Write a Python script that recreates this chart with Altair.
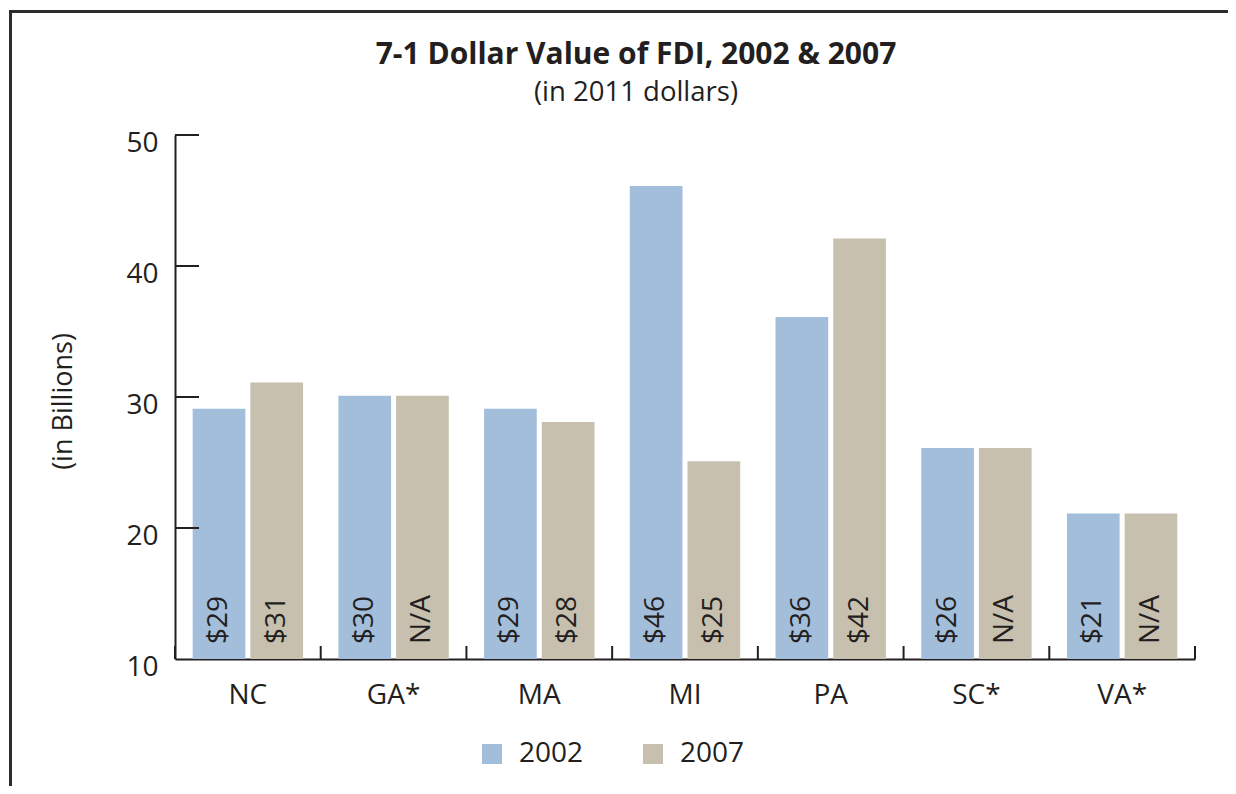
import altair as alt
import pandas as pd

states = ["NC", "GA*", "MA", "MI", "PA", "SC*", "VA*"]
v2002 = [29.1, 30.1, 29.1, 46.1, 36.1, 26.1, 21.1]
v2007 = [31.1, 30.1, 28.1, 25.1, 42.1, 26.1, 21.1]
lab2002 = ["$29", "$30", "$29", "$46", "$36", "$26", "$21"]
lab2007 = ["$31", "N/A", "$28", "$25", "$42", "N/A", "N/A"]
years = ["2002", "2007"]
y_ticks = [10, 20, 30, 40, 50]
title_text = "7-1 Dollar Value of FDI, 2002 & 2007"
subtitle_text = "(in 2011 dollars)"
y_title = "(in Billions)"

BLUE = "#a3bedb"
TAN = "#c8c0ae"
INK = "#231f20"
W, H = 1020, 524

rows = []
for i, s in enumerate(states):
    rows.append({"state": s, "year": years[0], "value": v2002[i], "label": lab2002[i]})
    rows.append({"state": s, "year": years[1], "value": v2007[i], "label": lab2007[i]})
df = pd.DataFrame(rows)

xscale = alt.Scale(domain=states, paddingInner=0, paddingOuter=0)
yscale = alt.Scale(domain=[10, 50], zero=False, nice=False)
offscale = alt.Scale(domain=years, paddingInner=0.087, paddingOuter=0.306)

base = alt.Chart(df)

bars = base.mark_bar().encode(
    x=alt.X("state:N", sort=states, scale=xscale,
            axis=alt.Axis(title=None, labelAngle=0, labelPadding=22, ticks=False,
                          tickSize=0, domain=True)),
    xOffset=alt.XOffset("year:N", scale=offscale),
    y=alt.Y("value:Q", scale=yscale,
            axis=alt.Axis(values=y_ticks, title=y_title, ticks=False, tickSize=0,
                          labelPadding=17, labelOffset=8, titleAngle=270,
                          titleX=-112, titleY=266, titleBaseline="middle",
                          titleAlign="center", titleFontSize=27,
                          titleFontWeight="normal", titleFont="Open Sans",
                          titleColor=INK)),
    y2=alt.datum(10),
    color=alt.Color("year:N", scale=alt.Scale(domain=years, range=[BLUE, TAN]),
                    legend=alt.Legend(orient="none", legendX=303, legendY=605,
                                      direction="horizontal", title=None,
                                      symbolType="square", symbolSize=400,
                                      symbolStrokeWidth=0, labelFontSize=28,
                                      labelFont="Open Sans", labelColor=INK,
                                      labelOffset=13, columnPadding=55, padding=0)),
)

labels = base.mark_text(angle=270, align="left", baseline="middle", dx=15,
                        fontSize=28, font="Open Sans", color=INK).encode(
    x=alt.X("state:N", sort=states, scale=xscale),
    xOffset=alt.XOffset("year:N", scale=offscale),
    y=alt.datum(10),
    text="label:N",
)

ytick_df = pd.DataFrame({"t": y_ticks[1:]})
yticks = alt.Chart(ytick_df).mark_rule(color=INK, strokeWidth=2).encode(
    y=alt.Y("t:Q", scale=yscale),
    x=alt.value(0),
    x2=alt.value(24),
)

xtick_df = pd.DataFrame({"state": states})
xticks = alt.Chart(xtick_df).mark_rule(color=INK, strokeWidth=2).encode(
    x=alt.X("state:N", sort=states, scale=xscale, bandPosition=0),
    y=alt.value(H - 13),
    y2=alt.value(H),
)
xtick_end = alt.Chart(pd.DataFrame({"state": states[-1:]})).mark_rule(color=INK, strokeWidth=2).encode(
    x=alt.X("state:N", sort=states, scale=xscale, bandPosition=1),
    y=alt.value(H - 13),
    y2=alt.value(H),
)

one = pd.DataFrame({"t": [title_text], "s": [subtitle_text]})
frame = alt.Chart(one).mark_rect(filled=False, stroke="#2b2b2b", strokeWidth=3).encode(
    x=alt.value(-164.5), x2=alt.value(1200), y=alt.value(-123.5), y2=alt.value(900)
)
title = alt.Chart(one).mark_text(font="Open Sans", fontWeight="bold", fontSize=30,
                                 color=INK, align="center", baseline="alphabetic").encode(
    x=alt.value(461), y=alt.value(-71), text="t:N"
)
subtitle = alt.Chart(one).mark_text(font="Open Sans", fontSize=27.5, color=INK,
                                    align="center", baseline="alphabetic").encode(
    x=alt.value(461), y=alt.value(-34), text="s:N"
)

chart = alt.layer(frame, bars, labels, yticks, xticks, xtick_end, title, subtitle).properties(
    width=W, height=H,
    autosize=alt.AutoSizeParams(type="none"),
    padding={"left": 167, "top": 127, "right": 33, "bottom": 127},
).configure_view(strokeWidth=0).configure_axis(
    domainColor=INK, domainWidth=2, grid=False, labelFont="Open Sans",
    labelFontSize=28, labelColor=INK,
)

chart.save("out.html", embed_options={"renderer": "svg", "actions": False})
